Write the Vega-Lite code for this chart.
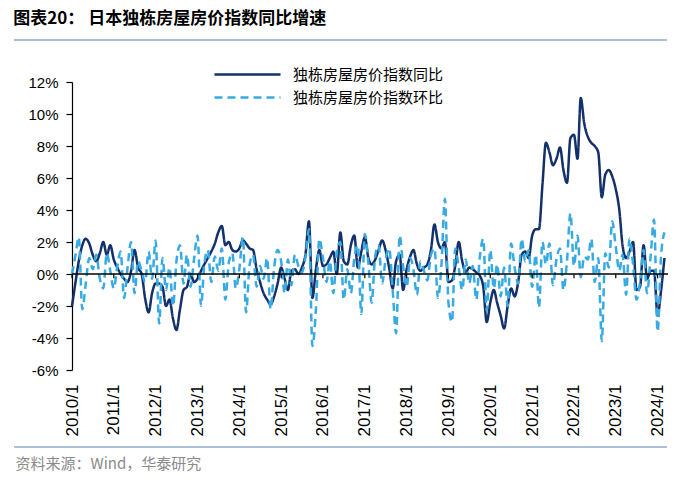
{
  "$schema": "https://vega.github.io/schema/vega-lite/v6.json",
  "width": 596,
  "height": 288,
  "autosize": "none",
  "padding": {"left": 72, "top": 82, "right": 14, "bottom": 130},
  "background": "white",
  "config": {"view": {"stroke": null}},
  "title": {
    "text": "图表20： 日本独栋房屋房价指数同比增速",
    "anchor": "start",
    "font": "Noto Sans CJK SC",
    "fontSize": 17,
    "fontWeight": "bold",
    "color": "#000000",
    "dx": 0,
    "offset": 11
  },
  "resolve": {"axis": {"x": "independent", "y": "independent"}},
  "layer": [
    {
      "data": {"values": [
        {"d":"2010-01","同比":-2.0,"环比":0.0},{"d":"2010-02","同比":-0.5,"环比":1.2},{"d":"2010-03","同比":0.8,"环比":2.3},{"d":"2010-04","同比":1.8,"环比":-2.2},{"d":"2010-05","同比":2.2,"环比":-0.6},{"d":"2010-06","同比":1.9,"环比":1.0},{"d":"2010-07","同比":1.2,"环比":0.3},{"d":"2010-08","同比":0.8,"环比":1.2},{"d":"2010-09","同比":1.3,"环比":-0.3},{"d":"2010-10","同比":2.0,"环比":-0.9},{"d":"2010-11","同比":1.2,"环比":1.3},{"d":"2010-12","同比":1.8,"环比":0.2},
        {"d":"2011-01","同比":0.9,"环比":-0.9},{"d":"2011-02","同比":0.4,"环比":0.5},{"d":"2011-03","同比":0.0,"环比":1.4},{"d":"2011-04","同比":-0.3,"环比":-1.5},{"d":"2011-05","同比":-0.5,"环比":0.4},{"d":"2011-06","同比":0.2,"环比":2.0},{"d":"2011-07","同比":1.5,"环比":-1.2},{"d":"2011-08","同比":0.4,"环比":0.8},{"d":"2011-09","同比":0.0,"环比":0.2},{"d":"2011-10","同比":-1.5,"环比":-0.5},{"d":"2011-11","同比":-2.4,"环比":1.4},{"d":"2011-12","同比":-1.2,"环比":-0.3},
        {"d":"2012-01","同比":-0.6,"环比":2.1},{"d":"2012-02","同比":-0.6,"环比":-3.1},{"d":"2012-03","同比":-0.8,"环比":1.0},{"d":"2012-04","同比":-2.0,"环比":-1.0},{"d":"2012-05","同比":-1.6,"环比":0.4},{"d":"2012-06","同比":-2.8,"环比":-2.0},{"d":"2012-07","同比":-3.5,"环比":0.8},{"d":"2012-08","同比":-2.2,"环比":1.8},{"d":"2012-09","同比":-1.0,"环比":-0.6},{"d":"2012-10","同比":-0.8,"环比":1.2},{"d":"2012-11","同比":0.0,"环比":-0.8},{"d":"2012-12","同比":-0.5,"环比":0.9},
        {"d":"2013-01","同比":-0.3,"环比":2.4},{"d":"2013-02","同比":0.2,"环比":-2.0},{"d":"2013-03","同比":0.6,"环比":0.6},{"d":"2013-04","同比":1.0,"环比":1.5},{"d":"2013-05","同比":1.4,"环比":-0.5},{"d":"2013-06","同比":1.9,"环比":1.1},{"d":"2013-07","同比":2.6,"环比":0.2},{"d":"2013-08","同比":3.0,"环比":1.6},{"d":"2013-09","同比":1.8,"环比":-1.6},{"d":"2013-10","同比":2.0,"环比":0.7},{"d":"2013-11","同比":1.5,"环比":1.3},{"d":"2013-12","同比":1.4,"环比":-0.9},
        {"d":"2014-01","同比":1.6,"环比":0.3},{"d":"2014-02","同比":2.1,"环比":2.3},{"d":"2014-03","同比":1.9,"环比":-2.4},{"d":"2014-04","同比":1.6,"环比":0.6},{"d":"2014-05","同比":1.5,"环比":1.2},{"d":"2014-06","同比":0.3,"环比":-0.8},{"d":"2014-07","同比":-0.5,"环比":0.5},{"d":"2014-08","同比":-1.2,"环比":-0.3},{"d":"2014-09","同比":-1.6,"环比":1.0},{"d":"2014-10","同比":-1.9,"环比":-2.2},{"d":"2014-11","同比":-1.4,"环比":0.4},{"d":"2014-12","同比":-0.6,"环比":1.5},
        {"d":"2015-01","同比":0.4,"环比":0.8},{"d":"2015-02","同比":-0.3,"环比":-1.2},{"d":"2015-03","同比":-1.0,"环比":0.9},{"d":"2015-04","同比":0.2,"环比":-0.7},{"d":"2015-05","同比":0.3,"环比":1.2},{"d":"2015-06","同比":0.0,"环比":0.5},{"d":"2015-07","同比":0.4,"环比":0.1},{"d":"2015-08","同比":1.2,"环比":1.0},{"d":"2015-09","同比":3.3,"环比":2.8},{"d":"2015-10","同比":-1.5,"环比":-4.5},{"d":"2015-11","同比":0.3,"环比":-2.2},{"d":"2015-12","同比":1.5,"环比":2.2},
        {"d":"2016-01","同比":0.5,"环比":1.0},{"d":"2016-02","同比":0.6,"环比":-0.5},{"d":"2016-03","同比":1.0,"环比":0.8},{"d":"2016-04","同比":1.4,"环比":-1.2},{"d":"2016-05","同比":0.0,"环比":1.4},{"d":"2016-06","同比":2.6,"环比":2.0},{"d":"2016-07","同比":0.8,"环比":-1.6},{"d":"2016-08","同比":0.6,"环比":0.3},{"d":"2016-09","同比":1.8,"环比":-1.2},{"d":"2016-10","同比":2.4,"环比":1.0},{"d":"2016-11","同比":0.4,"环比":1.8},{"d":"2016-12","同比":1.4,"环比":-2.5},
        {"d":"2017-01","同比":2.3,"环比":2.5},{"d":"2017-02","同比":1.0,"环比":0.7},{"d":"2017-03","同比":0.6,"环比":-1.8},{"d":"2017-04","同比":0.9,"环比":1.1},{"d":"2017-05","同比":1.5,"环比":1.8},{"d":"2017-06","同比":2.1,"环比":-0.6},{"d":"2017-07","同比":1.5,"环比":0.9},{"d":"2017-08","同比":0.4,"环比":1.6},{"d":"2017-09","同比":-0.9,"环比":-1.0},{"d":"2017-10","同比":0.8,"环比":-3.7},{"d":"2017-11","同比":1.2,"环比":2.4},{"d":"2017-12","同比":-1.0,"环比":0.5},
        {"d":"2018-01","同比":0.3,"环比":-0.8},{"d":"2018-02","同比":1.1,"环比":1.0},{"d":"2018-03","同比":1.5,"环比":0.3},{"d":"2018-04","同比":0.6,"环比":-1.3},{"d":"2018-05","同比":0.2,"环比":0.8},{"d":"2018-06","同比":0.4,"环比":0.2},{"d":"2018-07","同比":0.6,"环比":-0.4},{"d":"2018-08","同比":1.5,"环比":1.2},{"d":"2018-09","同比":3.1,"环比":1.6},{"d":"2018-10","同比":2.0,"环比":-1.5},{"d":"2018-11","同比":1.6,"环比":0.6},{"d":"2018-12","同比":2.0,"环比":4.7},
        {"d":"2019-01","同比":-0.5,"环比":-1.8},{"d":"2019-02","同比":-0.4,"环比":-3.0},{"d":"2019-03","同比":0.5,"环比":1.6},{"d":"2019-04","同比":2.0,"环比":0.4},{"d":"2019-05","同比":0.8,"环比":-1.0},{"d":"2019-06","同比":0.1,"环比":0.9},{"d":"2019-07","同比":0.4,"环比":-0.6},{"d":"2019-08","同比":0.3,"环比":0.5},{"d":"2019-09","同比":0.1,"环比":-1.6},{"d":"2019-10","同比":-0.1,"环比":1.0},{"d":"2019-11","同比":-0.8,"环比":2.2},{"d":"2019-12","同比":-3.0,"环比":-2.3},
        {"d":"2020-01","同比":-1.8,"环比":1.5},{"d":"2020-02","同比":-1.0,"环比":-0.9},{"d":"2020-03","同比":-1.8,"环比":0.6},{"d":"2020-04","同比":-2.6,"环比":-1.4},{"d":"2020-05","同比":-3.4,"环比":0.4},{"d":"2020-06","同比":-2.0,"环比":-2.0},{"d":"2020-07","同比":-0.9,"环比":1.9},{"d":"2020-08","同比":-1.4,"环比":0.4},{"d":"2020-09","同比":-0.5,"环比":-0.6},{"d":"2020-10","同比":1.2,"环比":2.2},{"d":"2020-11","同比":1.4,"环比":0.8},{"d":"2020-12","同比":1.0,"环比":1.5},
        {"d":"2021-01","同比":2.4,"环比":-0.8},{"d":"2021-02","同比":2.8,"环比":1.2},{"d":"2021-03","同比":2.8,"环比":-2.1},{"d":"2021-04","同比":5.6,"环比":2.0},{"d":"2021-05","同比":8.2,"环比":0.6},{"d":"2021-06","同比":7.6,"环比":1.9},{"d":"2021-07","同比":6.8,"环比":-0.7},{"d":"2021-08","同比":7.2,"环比":0.9},{"d":"2021-09","同比":7.9,"环比":1.6},{"d":"2021-10","同比":6.5,"环比":-1.0},{"d":"2021-11","同比":5.7,"环比":0.8},{"d":"2021-12","同比":8.5,"环比":3.8},
        {"d":"2022-01","同比":8.7,"环比":0.5},{"d":"2022-02","同比":7.2,"环比":2.4},{"d":"2022-03","同比":11.0,"环比":-0.2},{"d":"2022-04","同比":9.4,"环比":1.1},{"d":"2022-05","同比":8.6,"环比":0.9},{"d":"2022-06","同比":8.2,"环比":2.2},{"d":"2022-07","同比":8.0,"环比":-0.5},{"d":"2022-08","同比":7.6,"环比":1.0},{"d":"2022-09","同比":4.8,"环比":-4.2},{"d":"2022-10","同比":6.2,"环比":1.3},{"d":"2022-11","同比":6.5,"环比":0.4},{"d":"2022-12","同比":6.1,"环比":3.3},
        {"d":"2023-01","同比":5.3,"环比":1.7},{"d":"2023-02","同比":4.0,"环比":0.2},{"d":"2023-03","同比":1.8,"环比":1.2},{"d":"2023-04","同比":1.0,"环比":-1.3},{"d":"2023-05","同比":1.4,"环比":2.2},{"d":"2023-06","同比":2.0,"环比":0.6},{"d":"2023-07","同比":-1.0,"环比":-1.6},{"d":"2023-08","同比":-0.8,"环比":-0.5},{"d":"2023-09","同比":1.8,"环比":1.5},{"d":"2023-10","同比":-0.3,"环比":-1.2},{"d":"2023-11","同比":0.2,"环比":1.1},{"d":"2023-12","同比":0.2,"环比":3.4},
        {"d":"2024-01","同比":-2.6,"环比":-3.6},{"d":"2024-02","同比":-1.0,"环比":1.2},{"d":"2024-03","同比":1.0,"环比":2.6}
      ]},
      "transform": [{"fold": ["同比", "环比"], "as": ["s", "v"]}],
      "mark": {"type": "line", "interpolate": "monotone", "strokeWidth": 2.5},
      "encoding": {
        "x": {
          "field": "d", "type": "temporal",
          "scale": {"domain": [{"year": 2010, "month": 1, "date": 1}, {"year": 2024, "month": 4, "date": 1}]},
          "axis": {
            "values": [{"year":2010,"month":1,"date":1},{"year":2011,"month":1,"date":1},{"year":2012,"month":1,"date":1},{"year":2013,"month":1,"date":1},{"year":2014,"month":1,"date":1},{"year":2015,"month":1,"date":1},{"year":2016,"month":1,"date":1},{"year":2017,"month":1,"date":1},{"year":2018,"month":1,"date":1},{"year":2019,"month":1,"date":1},{"year":2020,"month":1,"date":1},{"year":2021,"month":1,"date":1},{"year":2022,"month":1,"date":1},{"year":2023,"month":1,"date":1},{"year":2024,"month":1,"date":1}],
            "format": "%Y/1",
            "labelAngle": 270,
            "labelFont": "Liberation Sans",
            "labelFontSize": 17,
            "labelColor": "#000000",
            "labelPadding": 14,
            "labelOverlap": false,
            "domain": false,
            "ticks": false,
            "grid": false,
            "title": "资料来源：Wind，华泰研究",
            "titleFont": "Noto Sans CJK SC",
            "titleFontSize": 15,
            "titleFontWeight": "normal",
            "titleColor": "#8a8a8a",
            "titleAnchor": "start",
            "titleAlign": "left",
            "titleBaseline": "middle",
            "titleX": -57,
            "titleY": 93
          }
        },
        "y": {
          "field": "v", "type": "quantitative",
          "scale": {"domain": [-6, 12]},
          "axis": {
            "values": [-6, -4, -2, 0, 2, 4, 6, 8, 10, 12],
            "tickCount": 10,
            "labelExpr": "datum.value + '%'",
            "labelOverlap": false,
            "labelFont": "Liberation Sans",
            "labelFontSize": 15,
            "labelColor": "#000000",
            "labelPadding": 8,
            "tickSize": 6,
            "tickColor": "#000000",
            "domainColor": "#000000",
            "domainWidth": 1.2,
            "tickWidth": 1.2,
            "grid": false,
            "title": null
          }
        },
        "color": {
          "field": "s", "type": "nominal",
          "scale": {"domain": ["同比", "环比"], "range": ["#13306b", "#38aae2"]},
          "legend": {
            "orient": "none",
            "legendX": 168,
            "legendY": -15,
            "padding": 0,
            "title": null,
            "symbolType": "M-6,0H6",
            "symbolSize": 121,
            "symbolStrokeWidth": 2.5,
            "labelOffset": 38,
            "labelLimit": 400,
            "labelFont": "Noto Sans CJK SC",
            "labelFontSize": 15,
            "labelColor": "#000000",
            "rowPadding": 7,
            "labelExpr": "'独栋房屋房价指数' + datum.label"
          }
        },
        "strokeDash": {
          "field": "s", "type": "nominal",
          "scale": {"domain": ["同比", "环比"], "range": [[1, 0], [8, 5]]}
        }
      }
    },
    {
      "data": {"values": [{}]},
      "mark": {"type": "rule", "color": "#000000", "strokeWidth": 1.3},
      "encoding": {
        "y": {"datum": 0, "type": "quantitative", "axis": null}
      }
    },
    {
      "data": {"values": [
        {"t": "2010-01"}, {"t": "2011-01"}, {"t": "2012-01"}, {"t": "2013-01"}, {"t": "2014-01"},
        {"t": "2015-01"}, {"t": "2016-01"}, {"t": "2017-01"}, {"t": "2018-01"}, {"t": "2019-01"},
        {"t": "2020-01"}, {"t": "2021-01"}, {"t": "2022-01"}, {"t": "2023-01"}, {"t": "2024-01"}
      ]},
      "mark": {"type": "rule", "color": "#000000", "strokeWidth": 1.2},
      "encoding": {
        "x": {"field": "t", "type": "temporal", "axis": null},
        "y": {"datum": 0, "type": "quantitative", "axis": null},
        "y2": {"datum": -0.27}
      }
    },
    {
      "data": {"values": [{}]},
      "mark": {"type": "rule", "color": "#8eaacb", "strokeWidth": 1.5},
      "encoding": {
        "y": {"datum": 14.625, "type": "quantitative", "axis": null},
        "x": {"datum": 1218585600000, "type": "temporal", "axis": null},
        "x2": {"datum": 1711152000000}
      }
    },
    {
      "data": {"values": [{}]},
      "mark": {"type": "rule", "color": "#8eaacb", "strokeWidth": 1.5},
      "encoding": {
        "y": {"datum": -10.8125, "type": "quantitative", "axis": null},
        "x": {"datum": 1218585600000, "type": "temporal", "axis": null},
        "x2": {"datum": 1711152000000}
      }
    }
  ]
}
